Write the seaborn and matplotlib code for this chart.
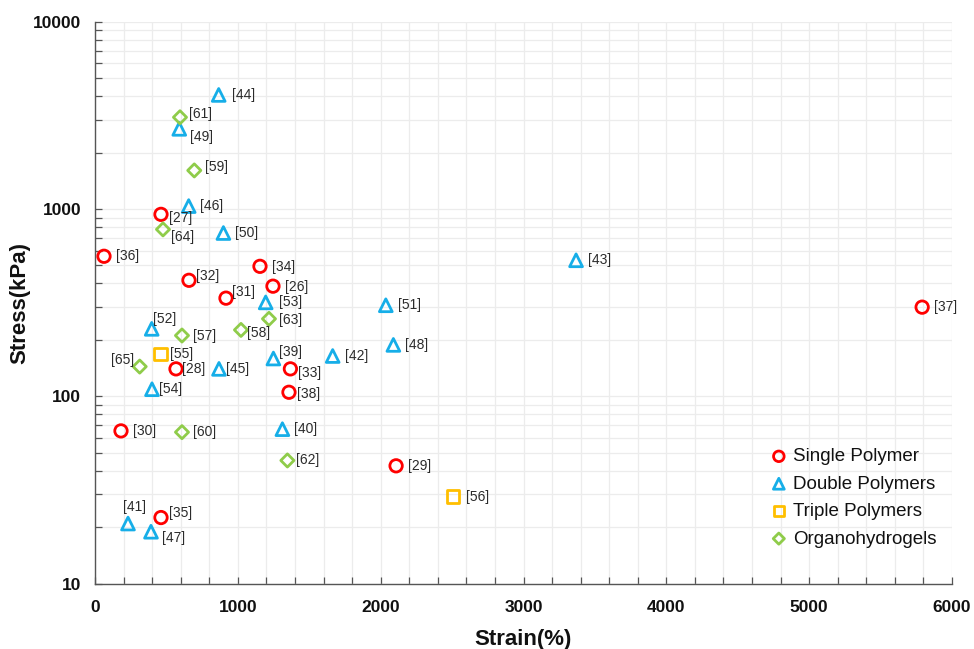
import numpy as np
import pandas as pd
import matplotlib
matplotlib.use('Agg')
import matplotlib.pyplot as plt
import seaborn as sns
from matplotlib.ticker import FixedLocator, MultipleLocator, LogLocator, NullFormatter, FixedFormatter

# ---------------- data ----------------
categories = ['Single Polymer', 'Double Polymers', 'Triple Polymers', 'Organohydrogels']

single_refs = ['[27]', '[36]', '[32]', '[34]', '[26]', '[31]', '[28]', '[33]', '[38]', '[30]', '[29]', '[35]', '[37]']
single_strain = [462, 63, 658, 1155, 1246, 917, 567, 1368, 1358, 182, 2108, 462, 5791]
single_stress = [936, 559, 416, 494, 387, 334, 140, 140, 105, 65.3, 42.5, 22.5, 299]

double_refs = ['[44]', '[49]', '[46]', '[50]', '[52]', '[53]', '[39]', '[45]', '[54]', '[40]',
               '[42]', '[48]', '[51]', '[43]', '[41]', '[47]']
double_strain = [866, 590, 656, 899, 397, 1195, 1249, 868, 399, 1312, 1664, 2089, 2036, 3368, 231, 392]
double_stress = [4064, 2679, 1036, 744, 229, 317, 159, 140, 109, 66.7, 164, 188, 306, 532, 20.9, 18.9]

triple_refs = ['[55]', '[56]']
triple_strain = [460, 2507]
triple_stress = [168, 29.1]

organo_refs = ['[61]', '[59]', '[64]', '[57]', '[58]', '[63]', '[65]', '[60]', '[62]']
organo_strain = [595, 695, 476, 609, 1022, 1218, 313, 609, 1347]
organo_stress = [3088, 1606, 778, 211, 226, 259, 144, 64.3, 45.4]

x_ticks = [0, 1000, 2000, 3000, 4000, 5000, 6000]
y_ticks = [10, 100, 1000, 10000]
y_tick_labels = ['10', '100', '1000', '10000']

# ---------------- styling ----------------
sns.set_theme(style='white')
plt.rcParams['font.family'] = ['Liberation Sans', 'DejaVu Sans']

colors = {'Single Polymer': '#ff0000', 'Double Polymers': '#16aee8',
          'Triple Polymers': '#ffbf00', 'Organohydrogels': '#8fcc4a'}
markers = {'Single Polymer': 'o', 'Double Polymers': '^',
           'Triple Polymers': 's', 'Organohydrogels': 'D'}
sizes = {'Single Polymer': 80, 'Double Polymers': 85,
         'Triple Polymers': 80, 'Organohydrogels': 45}

df = pd.concat([
    pd.DataFrame({'strain': single_strain, 'stress': single_stress, 'ref': single_refs, 'type': categories[0]}),
    pd.DataFrame({'strain': double_strain, 'stress': double_stress, 'ref': double_refs, 'type': categories[1]}),
    pd.DataFrame({'strain': triple_strain, 'stress': triple_stress, 'ref': triple_refs, 'type': categories[2]}),
    pd.DataFrame({'strain': organo_strain, 'stress': organo_stress, 'ref': organo_refs, 'type': categories[3]}),
], ignore_index=True)

fig = plt.figure(figsize=(9.74, 6.49), dpi=100)
ax = fig.add_axes([95 / 974, 1 - 583.5 / 649, (952 - 95) / 974, (583.5 - 21.7) / 649])

for cat in categories:
    sub = df[df['type'] == cat]
    sns.scatterplot(data=sub, x='strain', y='stress', ax=ax, marker=markers[cat],
                    s=sizes[cat], facecolors='none', edgecolor=colors[cat],
                    linewidth=2.0, label=cat, zorder=3)

ax.set_yscale('log')
ax.set_xlim(0, 6000)
ax.set_ylim(10, 10000)

# label offsets in pixels (dx right, dy down)
offsets = {
    '[44]': (13, 0), '[61]': (9, -3), '[49]': (11, 8), '[59]': (11, -3), '[46]': (11, 0),
    '[27]': (8, 4), '[64]': (8, 8), '[50]': (12, 0), '[36]': (12, 0), '[34]': (12, 1),
    '[32]': (7, -4), '[26]': (12, 1), '[31]': (6, -6), '[53]': (13, 0), '[63]': (10, 1),
    '[52]': (1, -10), '[57]': (11, 0), '[58]': (6, 3), '[55]': (9, 0), '[65]': (-6, -7),
    '[28]': (6, 0), '[45]': (7, 0), '[39]': (6, -7), '[33]': (8, 4), '[42]': (12, 0),
    '[48]': (12, 0), '[51]': (12, 0), '[43]': (12, 0), '[54]': (7, 0), '[38]': (8, 2),
    '[40]': (12, 0), '[30]': (12, 0), '[60]': (11, 0), '[62]': (9, 0), '[29]': (12, 0),
    '[56]': (13, 0), '[41]': (-5, -17), '[35]': (8, -5), '[47]': (11, 6), '[37]': (12, 0),
}
for _, r in df.iterrows():
    dx, dy = offsets.get(r['ref'], (12, 0))
    ha = 'right' if r['ref'] == '[65]' else 'left'
    ax.annotate(r['ref'], (r['strain'], r['stress']), xytext=(dx * 0.72, -dy * 0.72),
                textcoords='offset points', ha=ha, va='center', fontsize=10,
                color='#2b2b2b', zorder=4)

# ticks
ax.xaxis.set_major_locator(FixedLocator(x_ticks))
ax.xaxis.set_minor_locator(MultipleLocator(200))
ax.yaxis.set_major_locator(FixedLocator(y_ticks))
ax.yaxis.set_major_formatter(FixedFormatter(y_tick_labels))
ax.yaxis.set_minor_locator(LogLocator(base=10, subs=np.arange(2, 10)))
ax.yaxis.set_minor_formatter(NullFormatter())

ax.tick_params(axis='both', which='both', direction='in', length=5, width=0.9,
               color='#555555', left=True, bottom=True)
ax.tick_params(axis='x', which='major', pad=12, labelsize=12.5)
ax.tick_params(axis='y', which='major', pad=10, labelsize=12.5)
for lab in ax.get_xticklabels() + ax.get_yticklabels():
    lab.set_fontweight('bold')
    lab.set_color('#111111')

ax.grid(True, which='both', color='#ececec', linewidth=0.9, zorder=0)
ax.set_axisbelow(True)
for s in ['top', 'right']:
    ax.spines[s].set_visible(False)
for s in ['left', 'bottom']:
    ax.spines[s].set_color('#555555')
    ax.spines[s].set_linewidth(1.0)

ax.set_xlabel('Strain(%)', fontsize=16, fontweight='bold', color='#111111', labelpad=10)
ax.set_ylabel('Stress(kPa)', fontsize=16, fontweight='bold', color='#111111', labelpad=2)

leg = ax.legend(loc='upper left', bbox_to_anchor=(0.787, 0.241), frameon=False,
                fontsize=13.5, handlelength=1.0, handletextpad=0.25, labelspacing=0.55,
                borderpad=0, borderaxespad=0, markerscale=0.85)
for t in leg.get_texts():
    t.set_color('#111111')

fig.savefig('out.png', dpi=100)
